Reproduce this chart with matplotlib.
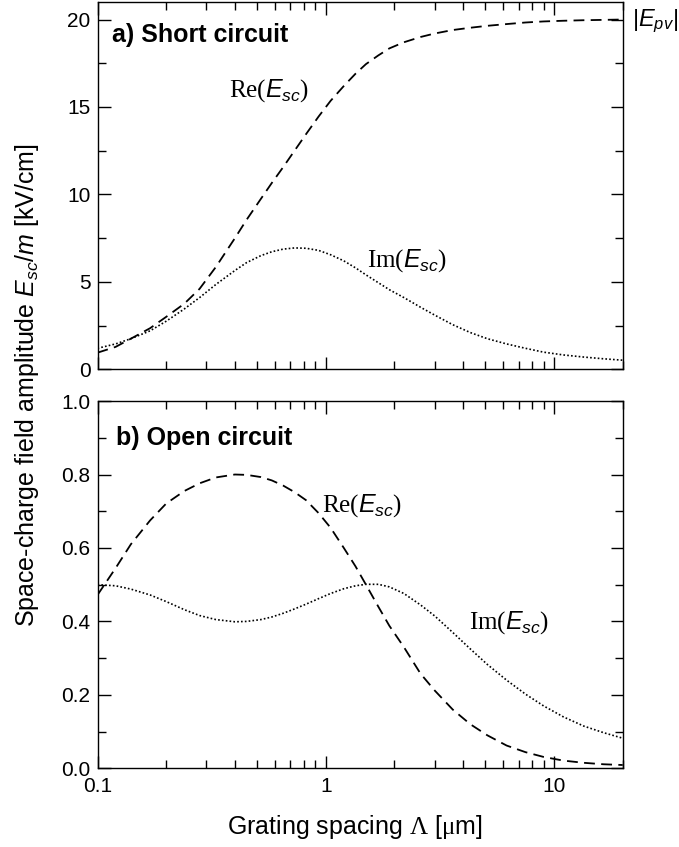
import matplotlib
matplotlib.use("Agg")
import matplotlib.pyplot as plt
from matplotlib.ticker import MultipleLocator, FixedLocator, NullFormatter, FixedFormatter, FormatStrFormatter

plt.rcParams['font.family'] = ['Liberation Sans', 'DejaVu Sans']
plt.rcParams['mathtext.fontset'] = 'custom'
plt.rcParams['mathtext.rm'] = 'Liberation Serif'
plt.rcParams['mathtext.it'] = 'Liberation Sans:italic'
plt.rcParams['mathtext.bf'] = 'Liberation Sans:bold'

# grating spacing in um
spacing = [0.1, 0.12, 0.14, 0.17, 0.2, 0.24, 0.28, 0.33, 0.4, 0.45, 0.52, 0.58,
           0.65, 0.73, 0.82, 0.93, 1.05, 1.2, 1.35, 1.5, 1.7, 1.9, 2.2, 2.6,
           3.0, 3.6, 4.3, 5.1, 6.2, 7.5, 9.0, 11, 13.5, 16.5, 20]

# a) short circuit [kV/cm]
re_short = [0.95, 1.28, 1.75, 2.35, 3.0, 3.75, 4.6, 5.85, 7.5, 8.55, 9.75, 10.65,
            11.55, 12.5, 13.45, 14.45, 15.35, 16.2, 16.9, 17.45, 17.95, 18.35, 18.7, 19.0,
            19.2, 19.4, 19.53, 19.64, 19.74, 19.83, 19.89, 19.93, 19.96, 19.98, 20.0]
im_short = [1.2, 1.45, 1.75, 2.2, 2.75, 3.45, 4.1, 4.85, 5.65, 6.1, 6.5, 6.72,
            6.87, 6.94, 6.92, 6.8, 6.55, 6.2, 5.8, 5.4, 4.95, 4.55, 4.1, 3.55,
            3.1, 2.55, 2.1, 1.75, 1.45, 1.2, 0.98, 0.82, 0.7, 0.6, 0.52]

# b) open circuit [kV/cm]
re_open = [0.472, 0.545, 0.61, 0.675, 0.721, 0.755, 0.776, 0.792, 0.80, 0.799, 0.793, 0.784,
           0.77, 0.752, 0.73, 0.695, 0.655, 0.60, 0.55, 0.50, 0.44, 0.388, 0.33, 0.258,
           0.212, 0.16, 0.12, 0.09, 0.062, 0.044, 0.031, 0.021, 0.015, 0.011, 0.009]
im_open = [0.5, 0.497, 0.488, 0.472, 0.454, 0.432, 0.416, 0.405, 0.399, 0.4, 0.405, 0.412,
           0.422, 0.434, 0.447, 0.462, 0.476, 0.489, 0.497, 0.501, 0.501, 0.494, 0.476, 0.445,
           0.415, 0.37, 0.325, 0.283, 0.24, 0.202, 0.17, 0.14, 0.115, 0.097, 0.082]

dash = (0, (6, 3.5))
dots = (0, (1, 1.3))

fig = plt.figure(figsize=(6.79, 8.47), dpi=100)
ax_a = fig.add_axes([0.1436, 0.564, 0.7735, 0.4336])
ax_b = fig.add_axes([0.1436, 0.0929, 0.7735, 0.4336])

for ax in (ax_a, ax_b):
    ax.set_xscale('log')
    ax.set_xlim(0.1, 20)
    ax.xaxis.set_major_locator(FixedLocator([0.1, 1, 10]))
    ax.xaxis.set_minor_locator(FixedLocator([k * d for d in (0.1, 1, 10) for k in range(2, 10)]))
    ax.xaxis.set_minor_formatter(NullFormatter())
    ax.tick_params(which='both', direction='in', top=True, right=True, labelsize=15, width=1)
    ax.tick_params(which='major', length=9)
    ax.tick_params(which='minor', length=6)
    ax.tick_params(axis='x', pad=6)
    ax.tick_params(axis='y', pad=5)
    for sp in ax.spines.values():
        sp.set_linewidth(1)

ax_a.plot(spacing, re_short, color='black', lw=1.3, linestyle=dash)
ax_a.plot(spacing, im_short, color='black', lw=1.2, linestyle=dots)
ax_a.set_ylim(0, 21)
ax_a.yaxis.set_major_locator(MultipleLocator(5))
ax_a.yaxis.set_minor_locator(MultipleLocator(2.5))
ax_a.xaxis.set_major_formatter(NullFormatter())
ax_a.text(0.028, 0.892, 'a) Short circuit', transform=ax_a.transAxes, fontsize=18,
          fontweight='bold', va='baseline', ha='left')
ax_a.text(0.562, 15.6, r'$\mathrm{Re}(E_{sc})$', fontsize=18, ha='center', va='baseline')
ax_a.text(2.27, 5.86, r'$\mathrm{Im}(E_{sc})$', fontsize=18, ha='center', va='baseline')
ax_a.text(1.0177, 19.6, '|$E_{pv}$|', transform=ax_a.get_yaxis_transform(), fontsize=17,
          ha='left', va='baseline', clip_on=False)

ax_b.plot(spacing, re_open, color='black', lw=1.3, linestyle=dash)
ax_b.plot(spacing, im_open, color='black', lw=1.2, linestyle=dots)
ax_b.set_ylim(0, 1.0)
ax_b.yaxis.set_major_locator(MultipleLocator(0.2))
ax_b.yaxis.set_minor_locator(MultipleLocator(0.1))
ax_b.yaxis.set_major_formatter(FormatStrFormatter('%.1f'))
ax_b.xaxis.set_major_formatter(FixedFormatter(['0.1', '1', '10']))
ax_b.text(0.035, 0.880, 'b) Open circuit', transform=ax_b.transAxes, fontsize=18,
          fontweight='bold', va='baseline', ha='left')
ax_b.text(1.45, 0.699, r'$\mathrm{Re}(E_{sc})$', fontsize=18, ha='center', va='baseline')
ax_b.text(6.38, 0.381, r'$\mathrm{Im}(E_{sc})$', fontsize=18, ha='center', va='baseline')

fig.text(0.522, 0.0236, r'Grating spacing $\Lambda$ [$\mathrm{\mu}$m]', fontsize=18,
         ha='center', va='center')
fig.text(0.04, 0.545, 'Space-charge field amplitude $E_{sc}$/$m$ [kV/cm]', rotation=90,
         fontsize=18, ha='center', va='center')

fig.savefig('out.png', dpi=100)
